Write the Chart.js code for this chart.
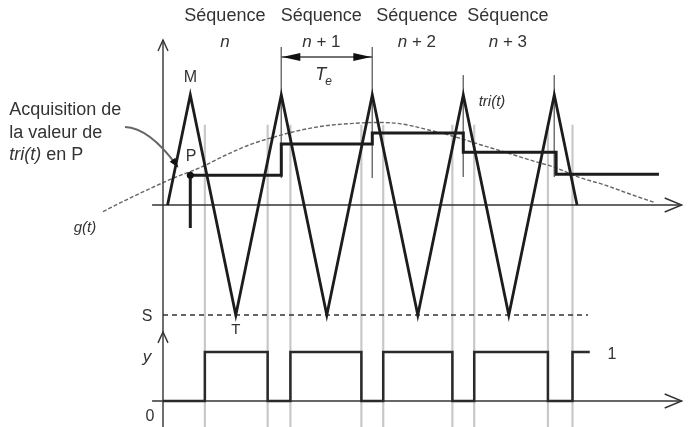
<!DOCTYPE html>
<html><head><meta charset="utf-8">
<script src="https://cdn.jsdelivr.net/npm/chart.js@4"></script>
<style>html,body{margin:0;padding:0;background:#fff;}#wrap{width:691px;height:427px;}</style>
</head><body>
<div id="wrap"><canvas id="c" width="691" height="427"></canvas></div>
<script>
// ---- DATA (time in units of Te, amplitude: triangle peak = 1, threshold S = -1) ----
const triTimes  = [0.05, 0.3, 0.8, 1.3, 1.8, 2.3, 2.8, 3.3, 3.8, 4.3, 4.55];
const triValues = [0, 1, -1, 1, -1, 1, -1, 1, -1, 1, 0];

const gTimes  = [-0.66,-0.42,-0.14,0.13,0.41,0.68,0.96,1.23,1.51,1.78,2.05,2.33,2.60,2.93,3.21,3.48,3.76,4.03,4.31,4.58,4.86,5.13,5.41];
const gValues = [-0.06,0.04,0.15,0.25,0.34,0.45,0.55,0.62,0.68,0.72,0.74,0.75,0.74,0.68,0.62,0.55,0.48,0.41,0.34,0.25,0.18,0.10,0.02];

const holdTimes  = [0.3, 1.3, 2.3, 3.3, 4.32, 5.45];
const holdValues = [0.27, 0.555, 0.655, 0.48, 0.28, 0.28];

const yTimes  = [0, 0.46, 1.15, 1.40, 2.18, 2.42, 3.18, 3.42, 4.23, 4.50, 4.69];
const yValues = [0, 1, 0, 1, 0, 1, 0, 1, 0, 1, 1];

const switchTimes = [0.46, 1.15, 1.40, 2.18, 2.42, 3.18, 3.42, 4.23, 4.50];
const sampleTimes = [1.3, 2.3, 3.3, 4.3];
const acquisitionTime = 0.3;
const thresholdS = -1;
const sequenceNames = ['n', 'n + 1', 'n + 2', 'n + 3'];
const sequenceTimes = [0.68, 1.74, 2.79, 3.79];

// ---- helpers ----
const pts = (xs, ys) => xs.map((x, i) => ({x, y: ys[i]}));
const INK = '#1c1c1c';
const base = {showLine: true, pointRadius: 0, pointHoverRadius: 0, tension: 0, fill: false};

const sampleTop = [1.436, 1.436, 1.18, 1.18];
const sampleBottom = [0.245, 0.245, 0.255, 0.255];

const datasets = [];
// top-most first
datasets.push({...base, data: pts(holdTimes, holdValues), yAxisID: 'yTop', borderColor: INK, borderWidth: 3, stepped: 'before'});
datasets.push({...base, data: pts(triTimes, triValues), yAxisID: 'yTop', borderColor: INK, borderWidth: 2.8});
datasets.push({...base, data: [{x: acquisitionTime, y: holdValues[0]}, {x: acquisitionTime, y: -0.21}], yAxisID: 'yTop', borderColor: INK, borderWidth: 3});
datasets.push({...base, data: pts(yTimes, yValues), yAxisID: 'yBot', borderColor: '#2a2a2a', borderWidth: 2.5, stepped: 'before'});
// axes
datasets.push({...base, data: [{x: 0, y: 1.50}, {x: 0, y: -2.02}], yAxisID: 'yTop', borderColor: '#333', borderWidth: 1.4});
datasets.push({...base, data: [{x: -0.12, y: 0}, {x: 5.70, y: 0}], yAxisID: 'yTop', borderColor: '#333', borderWidth: 1.4});
datasets.push({...base, data: [{x: -0.12, y: 0}, {x: 5.70, y: 0}], yAxisID: 'yBot', borderColor: '#333', borderWidth: 1.4});
// threshold S
datasets.push({...base, data: [{x: 0, y: thresholdS}, {x: 4.67, y: thresholdS}], yAxisID: 'yTop', borderColor: '#333', borderWidth: 1.4, borderDash: [5, 4]});
// g(t)
datasets.push({...base, data: pts(gTimes, gValues), yAxisID: 'yTop', borderColor: '#666', borderWidth: 1.4, borderDash: [4, 2], cubicInterpolationMode: 'monotone', tension: 0.4});
// sample instants
sampleTimes.forEach((t, i) => datasets.push({...base, data: [{x: t, y: sampleTop[i]}, {x: t, y: sampleBottom[i]}], yAxisID: 'yTop', borderColor: '#707070', borderWidth: 1}));
// comparator switching instants
switchTimes.forEach(t => datasets.push({...base, data: [{x: t, y: 0.73}, {x: t, y: -2.02}], yAxisID: 'yTop', borderColor: '#c8c8c8', borderWidth: 2.2}));

const FONT = '"Liberation Sans", Arial, sans-serif';
const TXT = '#333';

function rich(ctx, parts, x, y, align, size) {
  let w = 0;
  parts.forEach(p => { ctx.font = (p[1] ? 'italic ' : '') + size + 'px ' + FONT; w += ctx.measureText(p[0]).width; });
  let cx = align === 'left' ? x : x - w / 2;
  ctx.textBaseline = 'middle'; ctx.textAlign = 'left'; ctx.fillStyle = TXT;
  parts.forEach(p => { ctx.font = (p[1] ? 'italic ' : '') + size + 'px ' + FONT; ctx.fillText(p[0], cx, y); cx += ctx.measureText(p[0]).width; });
}
function openHead(ctx, tipX, tipY, dx, dy, len, half) {
  const nx = -dy, ny = dx;
  ctx.beginPath();
  ctx.moveTo(tipX - dx * len + nx * half, tipY - dy * len + ny * half);
  ctx.lineTo(tipX, tipY);
  ctx.lineTo(tipX - dx * len - nx * half, tipY - dy * len - ny * half);
  ctx.stroke();
}
function filledHead(ctx, tipX, tipY, dx, dy, len, half) {
  const nx = -dy, ny = dx;
  ctx.beginPath();
  ctx.moveTo(tipX, tipY);
  ctx.lineTo(tipX - dx * len + nx * half, tipY - dy * len + ny * half);
  ctx.lineTo(tipX - dx * len - nx * half, tipY - dy * len - ny * half);
  ctx.closePath(); ctx.fill();
}

const decor = {
  id: 'decor',
  afterDatasetsDraw(chart) {
    const ctx = chart.ctx, sx = chart.scales.x, st = chart.scales.yTop, sb = chart.scales.yBot;
    const X = t => sx.getPixelForValue(t), YT = v => st.getPixelForValue(v), YB = w => sb.getPixelForValue(w);
    ctx.save();
    ctx.strokeStyle = '#333'; ctx.fillStyle = INK; ctx.lineWidth = 1.4;
    // axis arrowheads
    openHead(ctx, X(0), YT(1.50), 0, -1, 11, 5);
    openHead(ctx, X(0), YB(1.41), 0, -1, 11, 5);
    openHead(ctx, X(5.70), YT(0), 1, 0, 17, 7);
    openHead(ctx, X(5.70), YB(0), 1, 0, 17, 7);
    // Te dimension
    const ya = YT(1.345);
    ctx.beginPath(); ctx.moveTo(X(1.3), ya); ctx.lineTo(X(2.3), ya); ctx.strokeStyle = '#444'; ctx.stroke();
    ctx.fillStyle = '#111';
    filledHead(ctx, X(1.3) + 1, ya, -1, 0, 18, 4);
    filledHead(ctx, X(2.3) - 1, ya, 1, 0, 18, 4);
    // leader line to acquisition
    const s = {x: X(-0.418), y: YT(0.709)}, c = {x: X(-0.15), y: YT(0.70)}, e = {x: X(0.15), y: YT(0.36)};
    ctx.strokeStyle = '#666'; ctx.lineWidth = 2;
    ctx.beginPath(); ctx.moveTo(s.x, s.y); ctx.quadraticCurveTo(c.x, c.y, e.x, e.y); ctx.stroke();
    let dx = e.x - c.x, dy = e.y - c.y; const L = Math.hypot(dx, dy); dx /= L; dy /= L;
    ctx.fillStyle = '#111'; filledHead(ctx, e.x + dx * 3, e.y + dy * 3, dx, dy, 10, 3.5);
    // P dot
    ctx.beginPath(); ctx.arc(X(acquisitionTime), YT(holdValues[0]), 3.5, 0, Math.PI * 2); ctx.fill();
    // texts
    sequenceTimes.forEach((t, i) => {
      rich(ctx, [['Séquence', 0]], X(t), YT(1.718), 'center', 18);
      const nm = sequenceNames[i];
      rich(ctx, [['n', 1], [nm.slice(1), 0]], X(t), YT(1.482), 'center', 17);
    });
    rich(ctx, [['M', 0]], X(0.3), YT(1.155), 'center', 16);
    rich(ctx, [['P', 0]], X(0.31), YT(0.436), 'center', 16);
    // Te
    ctx.font = 'italic 18px ' + FONT; ctx.fillStyle = TXT; ctx.textBaseline = 'middle'; ctx.textAlign = 'left';
    const tx = X(1.76) - 8, ty = YT(1.18);
    ctx.fillText('T', tx, ty);
    const tw = ctx.measureText('T').width;
    ctx.font = 'italic 12px ' + FONT; ctx.fillText('e', tx + tw - 1, ty + 6);
    rich(ctx, [['tri(t)', 1]], X(3.615), YT(0.936), 'center', 15);
    rich(ctx, [['Acquisition de', 0]], X(-1.69), YT(0.864), 'left', 18);
    rich(ctx, [['la valeur de', 0]], X(-1.69), YT(0.655), 'left', 18);
    rich(ctx, [['tri(t)', 1], [' en P', 0]], X(-1.69), YT(0.455), 'left', 18);
    rich(ctx, [['g(t)', 1]], X(-0.857), YT(-0.209), 'center', 15);
    rich(ctx, [['S', 0]], X(-0.176), YT(-1.018), 'center', 16);
    rich(ctx, [['T', 0]], X(0.8), YT(-1.136), 'center', 15);
    rich(ctx, [['y', 1]], X(-0.176), YB(0.898), 'center', 17);
    rich(ctx, [['0', 0]], X(-0.143), YB(-0.327), 'center', 16);
    rich(ctx, [['1', 0]], X(4.934), YB(0.939), 'center', 16);
    ctx.restore();
  }
};

new Chart(document.getElementById('c'), {
  type: 'scatter',
  data: {datasets},
  options: {
    responsive: false, animation: false, devicePixelRatio: 1,
    layout: {padding: 0},
    plugins: {legend: {display: false}, tooltip: {enabled: false}},
    events: [],
    scales: {
      x: {type: 'linear', display: false, min: -163 / 91, max: 528 / 91},
      yTop: {type: 'linear', display: false, min: -222 / 110, max: 205 / 110},
      yBot: {type: 'linear', display: false, min: -26 / 49, max: 401 / 49}
    }
  },
  plugins: [decor]
});
</script>
</body></html>
